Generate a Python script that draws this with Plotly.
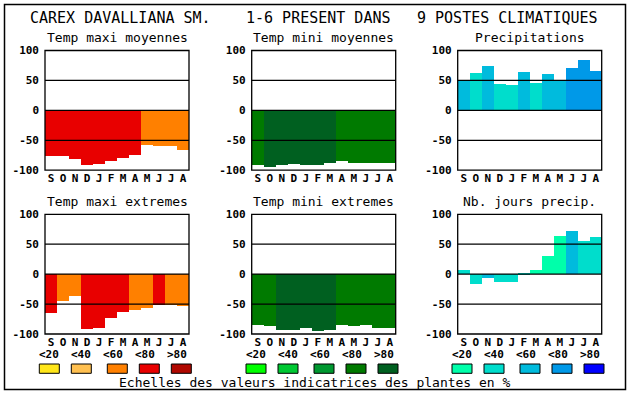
import plotly.graph_objects as go

W, H = 630, 394

months = ["S", "O", "N", "D", "J", "F", "M", "A", "M", "J", "J", "A"]
class_labels = ["<20", "<40", "<60", "<80", ">80"]

red_scale = ["#FFE619", "#FFC050", "#FF8000", "#E80000", "#B00800"]
green_scale = ["#00FF00", "#00C833", "#009830", "#007A00", "#006020"]
blue_scale = ["#00FFAA", "#00DDCC", "#00BBDD", "#0099E8", "#0000FF"]

tmax_moy = [-75, -75, -81, -91, -88, -83, -78, -73, -57, -58, -58, -65]
tmax_moy_cls = [3, 3, 3, 3, 3, 3, 3, 3, 2, 2, 2, 2]
tmin_moy = [-91, -93, -91, -88, -91, -91, -87, -83, -87, -87, -87, -87]
tmin_moy_cls = [3, 4, 4, 4, 4, 4, 4, 3, 3, 3, 3, 3]
precip = [50, 63, 75, 45, 43, 65, 47, 62, 50, 72, 85, 67]
precip_cls = [2, 1, 2, 1, 1, 2, 1, 2, 2, 3, 3, 3]
tmax_ext = [-65, -46, -37, -92, -90, -74, -64, -60, -57, -52, -52, -54]
tmax_ext_cls = [3, 2, 2, 3, 3, 3, 3, 2, 2, 3, 2, 2]
tmin_ext = [-86, -87, -94, -94, -90, -96, -94, -86, -87, -86, -90, -90]
tmin_ext_cls = [3, 3, 4, 4, 4, 4, 4, 3, 3, 3, 3, 3]
nb_jours = [6, -17, -7, -14, -14, -2, 7, 30, 64, 72, 55, 62]
nb_jours_cls = [1, 1, 2, 1, 1, 1, 0, 0, 0, 2, 1, 1]

y_ticks = [100, 50, 0, -50, -100]
grid_vals = [50, 0, -50]

title_parts = ["CAREX DAVALLIANA SM.", "1-6 PRESENT DANS", "9 POSTES CLIMATIQUES"]
caption = "Echelles des valeurs indicatrices des plantes en %"

panels = [
    ("Temp maxi moyennes", tmax_moy, tmax_moy_cls, red_scale, 0, 0),
    ("Temp mini moyennes", tmin_moy, tmin_moy_cls, green_scale, 1, 0),
    ("Precipitations", precip, precip_cls, blue_scale, 2, 0),
    ("Temp maxi extremes", tmax_ext, tmax_ext_cls, red_scale, 0, 1),
    ("Temp mini extremes", tmin_ext, tmin_ext_cls, green_scale, 1, 1),
    ("Nb. jours precip.", nb_jours, nb_jours_cls, blue_scale, 2, 1),
]

# layout geometry in pixels
col_left = [45, 251.7, 457.7]
panel_w = 144
row_top = [50.5, 214.3]
panel_h = 119.7

MONO = "DejaVu Sans Mono"

fig = go.Figure()
shapes = []
annotations = []

def px_x(x):
    return x / W

def px_y(y):
    return 1 - y / H

for i, (name, vals, cls, scale, c, r) in enumerate(panels):
    n = i + 1
    xa = "x" if n == 1 else f"x{n}"
    ya = "y" if n == 1 else f"y{n}"
    fig.add_trace(go.Bar(
        x=list(range(len(vals))), y=vals, base=0,
        marker=dict(color=[scale[k] for k in cls], line=dict(width=0)),
        width=1.0, xaxis=xa, yaxis=ya, showlegend=False, hoverinfo="skip",
    ))
    x0, x1 = col_left[c], col_left[c] + panel_w
    y0, y1 = row_top[r], row_top[r] + panel_h
    xkey = "xaxis" if n == 1 else f"xaxis{n}"
    ykey = "yaxis" if n == 1 else f"yaxis{n}"
    fig.update_layout(**{
        xkey: dict(domain=[px_x(x0), px_x(x1)], anchor=ya, range=[-0.5, 11.5],
                   tickvals=list(range(12)), ticktext=months, showgrid=False,
                   zeroline=False, showline=False, ticks="", automargin=False,
                   tickfont=dict(family=MONO, size=11, color="black", weight="bold"),
                   fixedrange=True),
        ykey: dict(domain=[px_y(y1), px_y(y0)], anchor=xa, range=[-100, 100],
                   tickvals=y_ticks, ticktext=[str(v) for v in y_ticks],
                   showgrid=False, zeroline=False, showline=False, ticks="",
                   automargin=False, ticklabelstandoff=5,
                   tickfont=dict(family=MONO, size=11, color="black", weight="bold"),
                   fixedrange=True),
    })
    for g in grid_vals:
        shapes.append(dict(type="line", xref=f"{xa} domain", yref=ya, x0=0, x1=1,
                           y0=g, y1=g, line=dict(color="black", width=1.3),
                           layer="above"))
    shapes.append(dict(type="rect", xref=f"{xa} domain", yref=f"{ya} domain",
                       x0=0, x1=1, y0=0, y1=1, line=dict(color="black", width=1.3),
                       layer="above"))
    annotations.append(dict(text=name, xref="paper", yref="paper",
                            x=px_x((x0 + x1) / 2), y=px_y(y0 - 12.5),
                            showarrow=False, xanchor="center", yanchor="middle",
                            font=dict(family=MONO, size=13, color="black")))
    if r == 1:
        for k, lab in enumerate(class_labels):
            annotations.append(dict(text=lab, xref="paper", yref="paper",
                                    x=px_x(x0 + 4 + 32 * k), y=px_y(354),
                                    showarrow=False, xanchor="center", yanchor="middle",
                                    font=dict(family=MONO, size=11, color="black",
                                              weight="bold")))
            bx = x0 - 5.7 + [0, 32, 68, 100, 132][k]
            shapes.append(dict(type="rect", xref="paper", yref="paper",
                               x0=px_x(bx), x1=px_x(bx + 20),
                               y0=px_y(373.3), y1=px_y(364),
                               fillcolor=scale[k], line=dict(color="black", width=1)))

# titles
title_x = [120, 318.5, 507.5]
for t, tx in zip(title_parts, title_x):
    annotations.append(dict(text=t, xref="paper", yref="paper", x=px_x(tx), y=px_y(18),
                            showarrow=False, xanchor="center", yanchor="middle",
                            font=dict(family=MONO, size=15, color="black")))

annotations.append(dict(text=caption, xref="paper", yref="paper", x=px_x(314.5),
                        y=px_y(382.5), showarrow=False, xanchor="center",
                        yanchor="middle", font=dict(family=MONO, size=13, color="black")))

# outer frame
shapes.append(dict(type="rect", xref="paper", yref="paper", x0=px_x(4.5), x1=px_x(625.5),
                   y0=px_y(389.5), y1=px_y(4.5), line=dict(color="black", width=1.5)))

fig.update_layout(width=W, height=H, margin=dict(l=0, r=0, t=0, b=0, autoexpand=False),
                  paper_bgcolor="white", plot_bgcolor="white",
                  bargap=0, shapes=shapes, annotations=annotations)

fig.write_html("out.html", config={"displayModeBar": False},
               post_script="document.body.style.margin='0';document.body.style.overflow='hidden';")
